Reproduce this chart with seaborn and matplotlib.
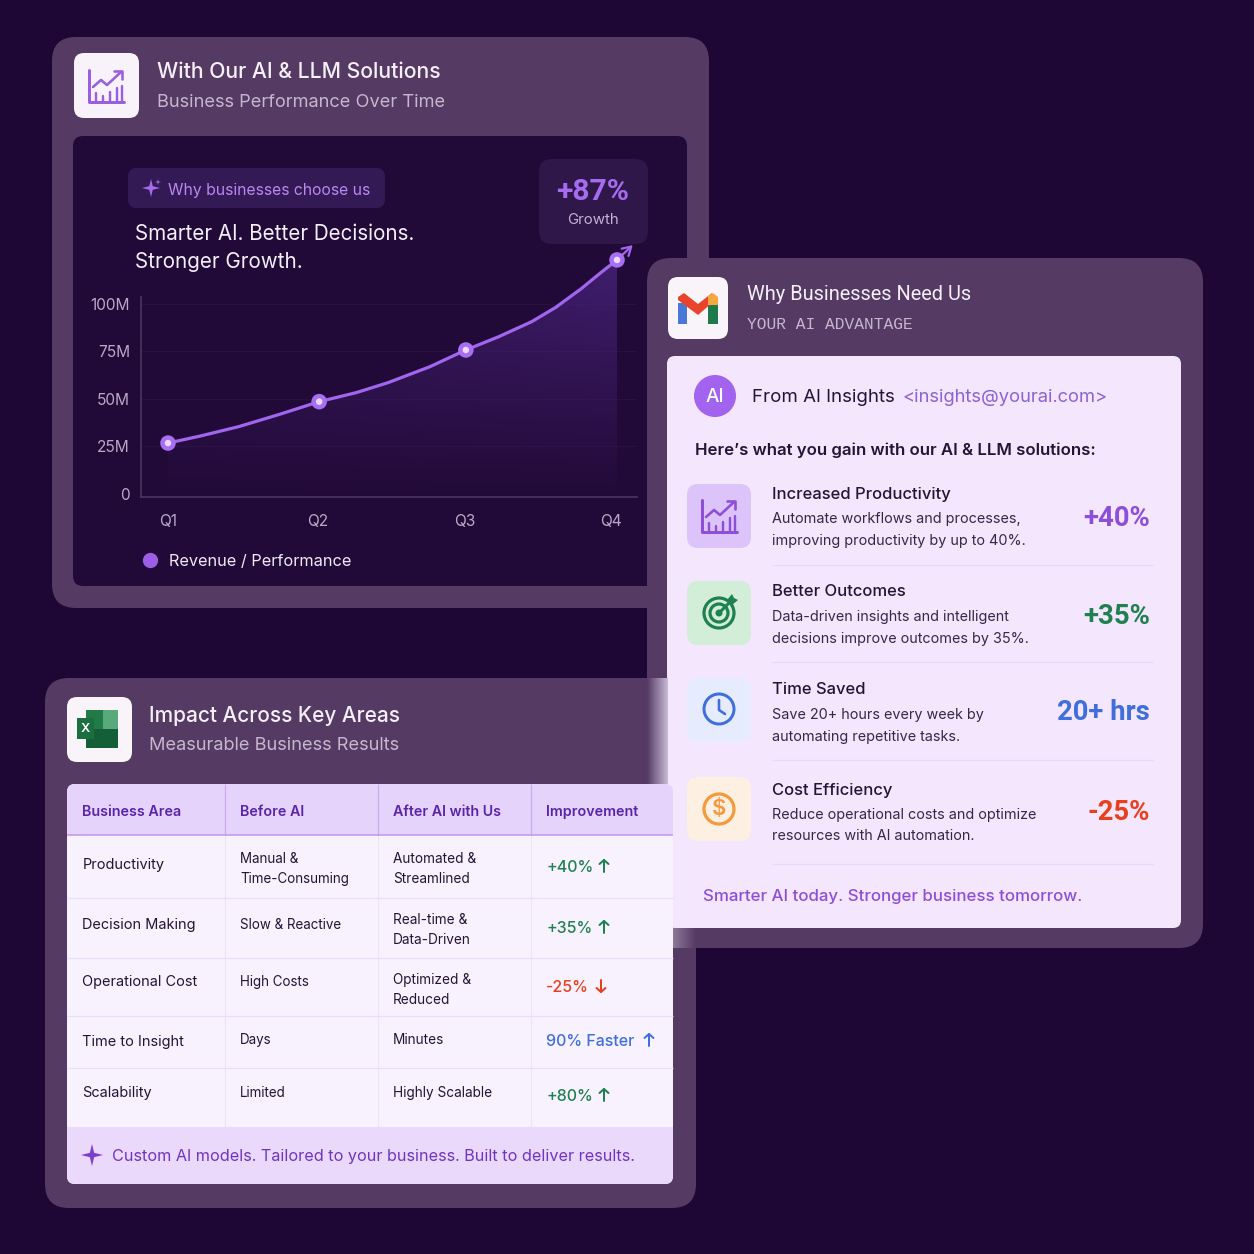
import numpy as np
import seaborn as sns
import matplotlib
matplotlib.use("Agg")
import matplotlib.pyplot as plt
from matplotlib.patches import FancyBboxPatch, Circle, Polygon, Rectangle
from matplotlib.lines import Line2D

# ---- chart data ----
quarters = ["Q1", "Q2", "Q3", "Q4"]
quarter_ticks = [0.0, 1.0, 1.98, 2.96]
point_q = [0.0, 1.01, 1.99, 3.0]
point_m = [26.8, 48.6, 75.8, 123.2]
curve_q = [0.0, 0.22, 0.47, 0.74, 1.01, 1.26, 1.47, 1.75, 1.99, 2.21, 2.43, 2.59, 2.76, 2.89, 3.0]
curve_m = [26.8, 30.6, 35.4, 41.8, 48.6, 53.4, 58.6, 67.0, 75.8, 82.8, 90.7, 98.2, 108.0, 116.4, 123.2]
y_ticks = [0, 25, 50, 75, 100]
y_labels = ["0", "25M", "50M", "75M", "100M"]

# ---- card data ----
benefit_titles = ["Increased Productivity", "Better Outcomes", "Time Saved", "Cost Efficiency"]
benefit_line1 = ["Automate workflows and processes,", "Data-driven insights and intelligent",
                 "Save 20+ hours every week by", "Reduce operational costs and optimize"]
benefit_line2 = ["improving productivity by up to 40%.", "decisions improve outcomes by 35%.",
                 "automating repetitive tasks.", "resources with AI automation."]
benefit_values = ["+40%", "+35%", "20+ hrs", "-25%"]

# ---- table data ----
table_head = ["Business Area", "Before AI", "After AI with Us", "Improvement"]
col_area = ["Productivity", "Decision Making", "Operational Cost", "Time to Insight", "Scalability"]
col_before = ["Manual &\nTime-Consuming", "Slow & Reactive", "High Costs", "Days", "Limited"]
col_after = ["Automated &\nStreamlined", "Real-time &\nData-Driven", "Optimized &\nReduced", "Minutes", "Highly Scalable"]
col_impr = ["+40%", "+35%", "-25%", "90% Faster", "+80%"]

BG = "#1f0735"; PANEL = "#553a64"; DARK = "#220a38"; CARD = "#f3e6fd"
PURPLE = "#8e4fd8"; LILAC = "#a56cf0"; GREEN = "#1f8050"; BLUE = "#3f6fdc"; RED = "#e8401c"; ORANGE = "#f39a3c"
INK = "#241536"; BODY = "#372848"
NARROW = ["Roboto", "DejaVu Sans"]

sns.set_theme(style="dark")
plt.rcParams["font.family"] = ["Inter", "DejaVu Sans"]

fig = plt.figure(figsize=(12.54, 12.54), dpi=100, facecolor=BG)


def layer(z):
    a = fig.add_axes([0, 0, 1, 1], zorder=z)
    a.set_xlim(0, 1254); a.set_ylim(1254, 0); a.axis("off"); a.patch.set_alpha(0)
    return a


back = layer(0)
top = layer(5)


def rr(a, x0, y0, x1, y1, r, fc, ec="none", lw=0, z=1, alpha=None):
    p = FancyBboxPatch((x0 + r, y0 + r), x1 - x0 - 2 * r, y1 - y0 - 2 * r,
                       boxstyle=f"round,pad={r},rounding_size={r}", fc=fc, ec=ec, lw=lw, zorder=z, alpha=alpha)
    a.add_patch(p)
    return p


def T(a, x, y, s, px, c="white", w="normal", ha="left", fam=None, z=10, ls=None):
    kw = {}
    if fam: kw["family"] = fam
    if ls: kw["linespacing"] = ls
    return a.text(x, y + 2.5, s, fontsize=px * 0.72, color=c, fontweight=w, ha=ha, va="center", zorder=z, **kw)


def L(a, xs, ys, c, px=2, z=6, cap="round"):
    a.plot(xs, ys, color=c, lw=px * 0.72, zorder=z, solid_capstyle=cap, solid_joinstyle="round")


def grad(a, x0, x1, y0, y1, c0, c1, z=2):
    c0 = np.array(matplotlib.colors.to_rgba(c0)); c1 = np.array(matplotlib.colors.to_rgba(c1))
    t = np.linspace(0, 1, 64)
    g = (np.outer(1 - t, c0) + np.outer(t, c1))[None, :, :]
    im = a.imshow(g, extent=(x0, x1, y1, y0), aspect="auto", zorder=z, interpolation="bilinear", origin="upper")
    a.set_xlim(0, 1254); a.set_ylim(1254, 0)
    return im


def sparkle(a, cx, cy, r, c, z=8):
    pts = []
    for i in range(8):
        ang = np.pi / 4 * i
        rad = r if i % 2 == 0 else r * 0.28
        pts.append((cx + rad * np.sin(ang), cy - rad * np.cos(ang)))
    a.add_patch(Polygon(pts, closed=True, fc=c, ec="none", zorder=z))


def chart_icon(a, cx, cy, c):
    L(a, [cx - 17, cx - 17, cx + 18], [cy - 16, cy + 16, cy + 16], c, 3)
    for dx, h in zip([-10, -3, 4, 11, 16], [8, 5, 9, 13, 15]):
        L(a, [cx + dx, cx + dx], [cy + 15, cy + 15 - h], c, 2.4)
    L(a, [cx - 13, cx - 5, cx + 1, cx + 15], [cy + 1, cy - 6, cy - 1, cy - 14], c, 2.6)
    L(a, [cx + 8, cx + 16, cx + 16], [cy - 15, cy - 15, cy - 7], c, 2.6)


# ========== panel 1 ==========
rr(back, 52, 37, 709, 608, 24, PANEL)
rr(back, 73, 136, 687, 586, 10, DARK, z=2)
rr(back, 74, 53, 139, 118, 10, "#f8f3fb", z=3)
chart_icon(back, 106, 86, "#9a5fe0")
T(back, 157, 70, "With Our AI & LLM Solutions", 21.2, "#f5eff8", "medium")
T(back, 157, 100, "Business Performance Over Time", 18.2, "#c5b7cd")
rr(back, 128, 168, 385, 208, 9, "#341a54", z=3)
sparkle(back, 151, 188, 9, LILAC)
sparkle(back, 158, 182, 3, LILAC)
T(back, 168, 187.5, "Why businesses choose us", 15.7, "#b987f2")
T(back, 135, 231, "Smarter AI. Better Decisions.", 20.6, "#f4eef8")
T(back, 135, 259, "Stronger Growth.", 20.6, "#f4eef8")
rr(back, 539, 159, 648, 244, 13, "#2f1749", z=3)
T(back, 593, 190, "+87%", 30, LILAC, "semibold", ha="center", fam=NARROW)
T(back, 593, 218, "Growth", 15, "#c3b2d3", ha="center")

# chart axes, placed on the picture, driven by data
W, H = 1254.0, 1254.0
ax_l, ax_r, ax_t, ax_b = 141, 637, 245, 497
ax = fig.add_axes([ax_l / W, 1 - ax_b / H, (ax_r - ax_l) / W, (ax_b - ax_t) / H], zorder=1)
ax.patch.set_alpha(0)
px_per_m = 1.9
px_per_q = 149.67
ylo = -(ax_b - 494) / px_per_m
yhi = (494 - ax_t) / px_per_m
poly = ax.fill_between(curve_q, curve_m, ylo, color="none", lw=0)
g = np.zeros((128, 64, 4))
tt = np.linspace(0, 1, 128)[:, None]
xx = np.linspace(0, 1, 64)[None, :]
g[..., :3] = np.array(matplotlib.colors.to_rgb("#4a2580"))
g[..., 3] = np.clip((1 - tt) * (0.5 + 0.25 * xx), 0, 1)
im = ax.imshow(g, extent=(0, 3, ylo, 125), aspect="auto", origin="upper", zorder=1, interpolation="bilinear")
im.set_clip_path(poly.get_paths()[0], transform=ax.transData)
for v in y_ticks[1:]:
    ax.axhline(v, color="#2a1142", lw=0.7, zorder=0.5)
sns.lineplot(x=curve_q, y=curve_m, ax=ax, color="#a066ee", lw=2.3, estimator=None, sort=False, zorder=3, clip_on=False)
sns.scatterplot(x=point_q, y=point_m, ax=ax, s=125, color="#a86ff2", edgecolor="none", zorder=4, clip_on=False)
sns.scatterplot(x=point_q, y=point_m, ax=ax, s=22, color="#eadbff", edgecolor="none", zorder=5, clip_on=False)
ax.annotate("", xy=(3.105, 131), xytext=(3.0, 123.2), xycoords="data", textcoords="data", annotation_clip=False,
            arrowprops=dict(arrowstyle="->,head_length=0.5,head_width=0.3", color="#a066ee", lw=1.6, shrinkA=0, shrinkB=0), zorder=3)
ax.set_xlim((ax_l - 168) / px_per_q, (ax_r - 168) / px_per_q)
ax.set_ylim(ylo, yhi)
ax.set_xticks(quarter_ticks, quarters)
ax.set_yticks(y_ticks, y_labels)
ax.grid(False)
ax.tick_params(axis="both", length=0, labelsize=15.5 * 0.72, labelcolor="#b9a9c8")
ax.tick_params(axis="x", pad=12)
ax.tick_params(axis="y", pad=8)
for s in ["top", "right"]:
    ax.spines[s].set_visible(False)
for s in ["left", "bottom"]:
    ax.spines[s].set_color("#4c3560"); ax.spines[s].set_linewidth(1.2)
ax.spines["left"].set_bounds(ylo, (494 - 297) / px_per_m)
handle = Line2D([], [], marker="o", ls="none", ms=11, mfc="#9c5ee6", mec="none", label="Revenue / Performance")
leg = ax.legend(handles=[handle], loc="center left", bbox_to_anchor=(133.5, 561.5), bbox_transform=back.transData,
                frameon=False, fontsize=16.3 * 0.72, labelcolor="#f0e9f5", handletextpad=0.2, borderpad=0, borderaxespad=0)

# ========== panel 2 ==========
rr(top, 647, 258, 1203, 948, 24, PANEL, z=1)
rr(top, 668, 277, 728, 339, 10, "#f8f4fa", z=2)
top.add_patch(Rectangle((678, 303), 9, 21, fc="#4a78d8", ec="none", zorder=3))
top.add_patch(Rectangle((708, 303), 10, 21, fc="#1f7a4a", ec="none", zorder=3))
top.add_patch(Polygon([(678, 297), (684, 293), (698, 304), (712, 293), (712, 303), (698, 315), (678, 300)], fc="#e8442c", ec="none", zorder=4))
top.add_patch(Polygon([(708, 296), (713, 293), (718, 297), (718, 305), (708, 305)], fc="#f5a742", ec="none", zorder=5))
T(top, 747, 292, "Why Businesses Need Us", 20, "#f5eff8", fam=NARROW)
T(top, 747, 322, "YOUR AI ADVANTAGE", 16.2, "#c5b7cd", fam="Liberation Mono")

# ========== panel 3 (behind the light card) ==========
rr(top, 45, 678, 696, 1208, 24, PANEL, z=3)
rr(top, 667, 356, 1181, 928, 8, CARD, z=4)
grad(top, 647, 668, 678, 784, PANEL, "#c9bad3", z=5)
grad(top, 673, 696, 928, 948, "#8c7a98", PANEL, z=5)

top.add_patch(Circle((715, 396), 21, fc="#a263ee", ec="none", zorder=6))
T(top, 715, 395, "AI", 19, "white", "medium", ha="center")
T(top, 752, 395, "From AI Insights", 18.7, INK)
T(top, 902, 395, "<insights@yourai.com>", 18.4, "#8d62d2")
T(top, 695, 448, "Here’s what you gain with our AI & LLM solutions:", 16.8, INK, "semibold")

box_top = [484, 581, 678, 777]
box_col = ["#dcc3fa", "#d2edd8", "#e6ecfe", "#fdf0e2"]
title_y = [491.5, 589.5, 687.5, 787.5]
val_col = [PURPLE, GREEN, BLUE, RED]
val_y = [516, 614, 710, 810]
sep_y = [565, 662, 760, 864]
for i in range(4):
    rr(top, 687, box_top[i], 751, box_top[i] + 64, 11, box_col[i], z=6)
    T(top, 772, title_y[i], benefit_titles[i], 16.6, INK, "medium")
    T(top, 772, title_y[i] + 24.5, benefit_line1[i], 14.4, BODY)
    T(top, 772, title_y[i] + 46.5, benefit_line2[i], 14.4, BODY)
    T(top, 1150, val_y[i], benefit_values[i], 27.5, val_col[i], "semibold", ha="right", fam=NARROW)
    L(top, [772, 1153], [sep_y[i], sep_y[i]], "#ead8fa", 1.2, cap="butt")

chart_icon(top, 719, 516, PURPLE)
# target icon
tx, ty = 719, 613
for r, lw_ in zip([15, 9], [3.2, 3.2]):
    top.add_patch(Circle((tx, ty), r, fc="none", ec=GREEN, lw=lw_ * 0.72, zorder=7))
top.add_patch(Circle((tx, ty), 3.5, fc=GREEN, ec="none", zorder=7))
L(top, [tx, tx + 13], [ty, ty - 13], GREEN, 3, z=8)
top.add_patch(Polygon([(tx + 8, ty - 13), (tx + 13, ty - 19), (tx + 15, ty - 15), (tx + 19, ty - 13), (tx + 13, ty - 8)], fc=GREEN, ec="none", zorder=8))
# clock icon
cx, cy = 719, 709
top.add_patch(Circle((cx, cy), 15, fc="none", ec=BLUE, lw=3 * 0.72, zorder=7))
L(top, [cx, cx, cx + 6], [cy - 9, cy + 1, cy + 5], BLUE, 2.6, z=8)
# coin icon
dx_, dy_ = 719, 809
top.add_patch(Circle((dx_, dy_), 15, fc="none", ec=ORANGE, lw=3.2 * 0.72, zorder=7))
T(top, dx_, dy_ - 2.5, "$", 22, ORANGE, "semibold", ha="center")
T(top, 703, 893.5, "Smarter AI today. Stronger business tomorrow.", 16.9, PURPLE, "medium")

# ========== table ==========
rr(top, 67, 697, 132, 762, 10, "#f8f4fa", z=6)
top.add_patch(Rectangle((86, 710), 32, 38, fc="#217a48", ec="none", zorder=7))
top.add_patch(Rectangle((103, 710), 15, 19, fc="#58a97c", ec="none", zorder=8))
top.add_patch(Rectangle((86, 729), 32, 19, fc="#155f36", ec="none", zorder=8))
top.add_patch(Rectangle((77, 718), 17, 21, fc="#1a6e3f", ec="none", zorder=9))
T(top, 85.5, 726.5, "X", 13, "white", "semibold", ha="center")
T(top, 149, 713, "Impact Across Key Areas", 20.8, "#f5eff8", "medium")
T(top, 149, 743, "Measurable Business Results", 18.2, "#c5b7cd")

clip = rr(top, 67, 784, 673, 1184, 8, "#f8f2fe", z=6)
col_x = [225, 378, 531]
text_x = [82.5, 240, 393, 546]
row_lines = [898, 958, 1016, 1068]
head = Rectangle((67, 784), 606, 51, fc="#e6d3fb", ec="none", zorder=7); top.add_patch(head); head.set_clip_path(clip)
foot = Rectangle((67, 1127), 606, 57, fc="#ead9fb", ec="none", zorder=7); top.add_patch(foot); foot.set_clip_path(clip)
for x in col_x:
    L(top, [x, x], [784, 835], "#c9a9f0", 1.2, z=8, cap="butt")
    L(top, [x, x], [835, 1127], "#efe3fb", 1.2, z=8, cap="butt")
L(top, [67, 673], [835, 835], "#bd95ea", 1.5, z=8, cap="butt")
for y in row_lines:
    L(top, [67, 673], [y, y], "#ecdefa", 1.2, z=8, cap="butt")
for x, s in zip(text_x, table_head):
    T(top, x, 809.5, s, 14.3, "#5a24a8", "semibold")

area_y = [862.5, 922.5, 979.5, 1039.5, 1090.5]
before_y = [866.5, 922.5, 979.5, 1037.5, 1090.5]
after_y = [866.5, 927.5, 987.5, 1037.5, 1090.5]
impr_y = [865, 926, 985, 1039, 1094]
impr_col = [GREEN, GREEN, RED, BLUE, GREEN]
arrow_x = [604, 604, 601, 649, 604]
arrow_up = [True, True, False, True, True]
for i in range(5):
    T(top, text_x[0], area_y[i], col_area[i], 14.5, INK)
    T(top, text_x[1], before_y[i], col_before[i], 13.4, INK, ls=1.5)
    T(top, text_x[2], after_y[i], col_after[i], 13.6, INK, ls=1.5)
    T(top, text_x[3], impr_y[i], col_impr[i], 16, impr_col[i], "medium")
    ax_, ay = arrow_x[i], impr_y[i] + 1
    s = -1 if arrow_up[i] else 1
    L(top, [ax_, ax_], [ay - 6 * s, ay + 6 * s], impr_col[i], 2, z=9)
    L(top, [ax_ - 4.5, ax_, ax_ + 4.5], [ay + 2 * s, ay + 6 * s, ay + 2 * s], impr_col[i], 2, z=9)

sparkle(top, 92, 1155, 11, "#7d3fce", z=9)
T(top, 112, 1154, "Custom AI models. Tailored to your business. Built to deliver results.", 16.2, "#6f34c0")

fig.savefig("out.png", dpi=100, facecolor=BG)
